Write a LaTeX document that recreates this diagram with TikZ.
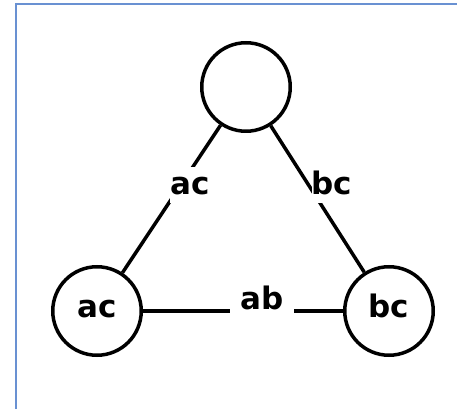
\documentclass[tikz,border=0pt]{standalone}
\usepackage{fontspec}
\setmainfont{DejaVu Sans}
\begin{document}
\begin{tikzpicture}[x=1pt,y=1pt,
  vertex/.style={draw, circle, line width=3.5pt, minimum size=88.5pt, inner sep=0pt,
    font=\fontsize{31}{31}\selectfont\bfseries, text height=13pt, text depth=0pt},
  edge/.style={line width=3.5pt},
  edgelabel/.style={fill=white, anchor=base, inner xsep=0pt, inner ysep=6pt,
    font=\fontsize{31}{31}\selectfont\bfseries, text height=22pt, text depth=2pt},
  frameline/.style={draw=frameblue, line width=2pt}
]
\definecolor{frameblue}{RGB}{105,145,210}
\useasboundingbox[fill=white] (0,0) rectangle (457,409);
% frame edges
\draw[frameline] (15.5,0) -- (15.5,405) -- (457,405);
% vertices
\node[vertex] (top) at (246,322) {};
\node[vertex] (left) at (97,98) {ac};
\node[vertex] (right) at (389,98) {bc};
% edges
\draw[edge] (top) -- (left);
\draw[edge] (top) -- (right);
\draw[edge] (left) -- (right);
% edge labels
\node[edgelabel] (lac) at (190,214) {ac};
\node[edgelabel] (lbc) at (332,214) {bc};
\node[edgelabel, inner xsep=10pt] (lab) at (262,99) {ab};
\end{tikzpicture}
\end{document}
